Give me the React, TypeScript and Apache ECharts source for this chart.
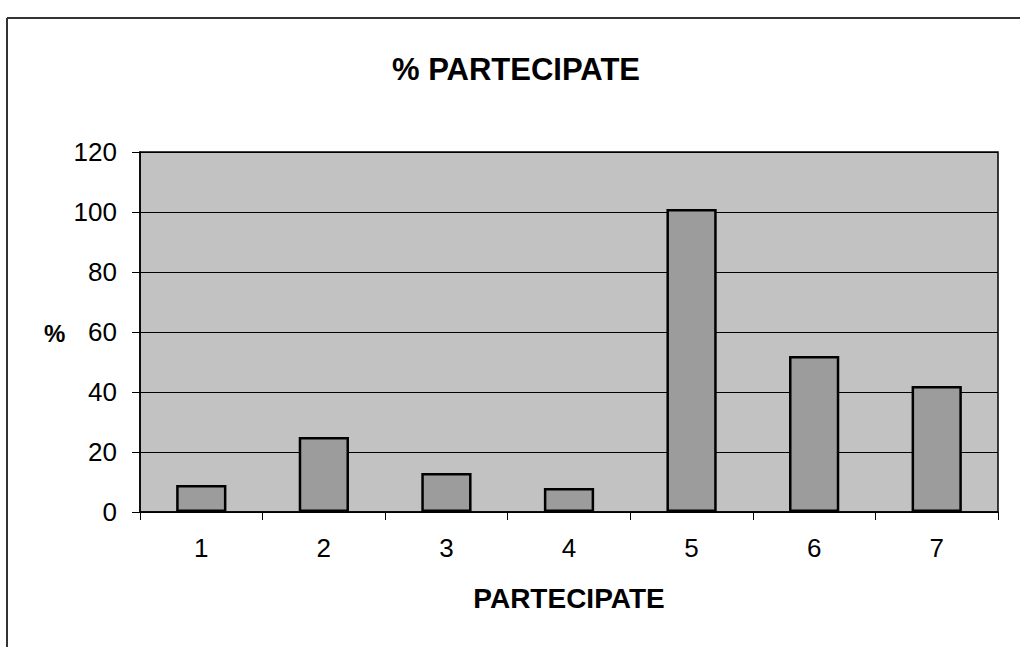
import React, { useEffect, useRef } from "react";
import * as echarts from "echarts";

const categories = ["1", "2", "3", "4", "5", "6", "7"];
const values = [9, 25, 13, 8, 101, 52, 42];
const yTicks = [0, 20, 40, 60, 80, 100, 120];

export default function App() {
  const ref = useRef<HTMLDivElement>(null);
  useEffect(() => {
    const chart = echarts.init(ref.current!, null, { renderer: "svg" });
    const font = "Arial, 'Liberation Sans', sans-serif";
    chart.setOption({
      animation: false,
      backgroundColor: "#ffffff",
      title: {
        text: "% PARTECIPATE",
        left: 511,
        top: 49,
        textAlign: "center",
        textStyle: { fontFamily: font, fontWeight: "bold", fontSize: 31, color: "#000" },
      },
      graphic: [
        {
          type: "line",
          shape: { x1: 7, y1: 18, x2: 7, y2: 647 },
          style: { stroke: "#333", lineWidth: 2 },
        },
        {
          type: "line",
          shape: { x1: 7, y1: 18, x2: 1020, y2: 18 },
          style: { stroke: "#333", lineWidth: 2 },
        },
        {
          type: "text",
          left: 44,
          top: 321,
          style: { text: "%", font: "bold 24px Arial, 'Liberation Sans', sans-serif", fill: "#000" },
        },
      ],
      grid: {
        left: 140,
        top: 152,
        right: 22,
        bottom: 135,
        show: true,
        backgroundColor: "#c2c2c2",
        borderColor: "#000",
        borderWidth: 1.5,
      },
      xAxis: {
        type: "category",
        data: categories,
        name: "PARTECIPATE",
        nameLocation: "middle",
        nameGap: 72,
        nameTextStyle: { fontFamily: font, fontWeight: "bold", fontSize: 28, color: "#000" },
        axisLine: { lineStyle: { color: "#000", width: 1.5 } },
        axisTick: { show: true, alignWithLabel: false, length: 8, lineStyle: { color: "#000" } },
        axisLabel: { fontFamily: font, fontSize: 26, color: "#000", margin: 23 },
      },
      yAxis: {
        type: "value",
        min: yTicks[0],
        max: yTicks[yTicks.length - 1],
        interval: 20,
        axisLine: { show: true, lineStyle: { color: "#000", width: 1.5 } },
        axisTick: { show: true, length: 8, lineStyle: { color: "#000" } },
        axisLabel: { fontFamily: font, fontSize: 26, color: "#000", margin: 23 },
        splitLine: { show: true, lineStyle: { color: "#000", width: 1 } },
      },
      series: [
        {
          type: "bar",
          data: values,
          barWidth: "41%",
          itemStyle: { color: "#9c9c9c", borderColor: "#000", borderWidth: 2.5 },
        },
      ],
    });
    return () => chart.dispose();
  }, []);
  return (
    <div
      ref={ref}
      style={{ position: "absolute", left: 0, top: 0, width: 1020, height: 647 }}
    />
  );
}
